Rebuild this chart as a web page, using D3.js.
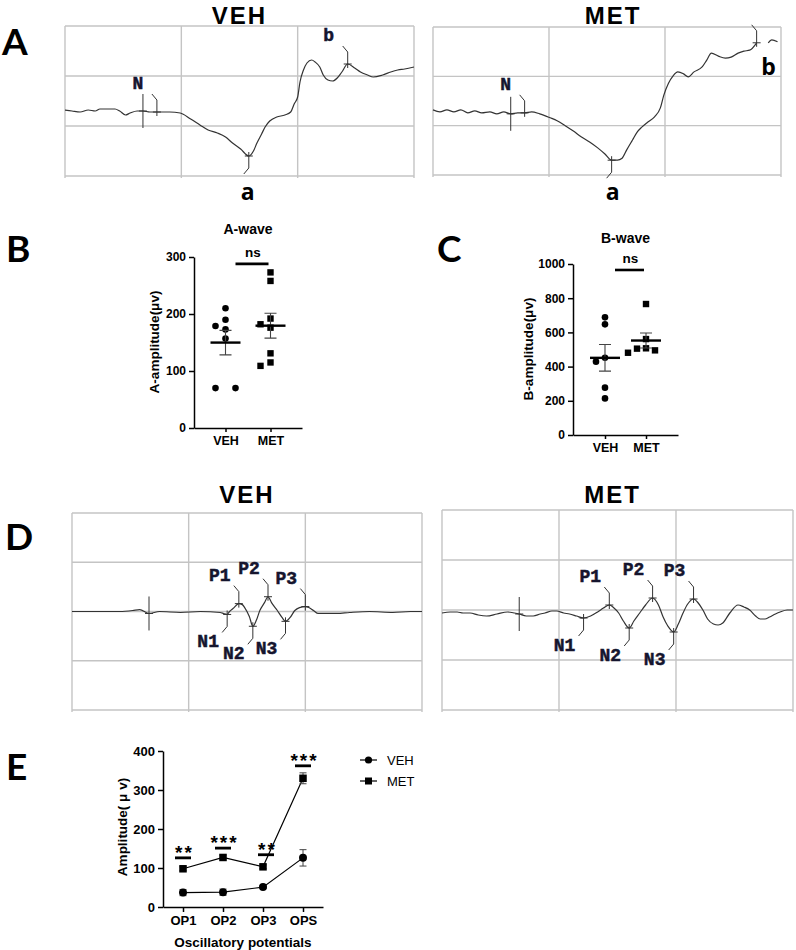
<!DOCTYPE html>
<html lang="en">
<head>
<meta charset="UTF-8">
<title>ERG figure</title>
<script src="https://d3js.org/d3.v7.min.js"></script>
<style>
  body { margin: 0; background: #fff; }
  svg { display: block; }
  .letter { font-family: Lato, "Open Sans", sans-serif; font-weight: 700; font-size: 37px; fill: #000; }
  .title { font-family: "Liberation Sans", Arial, sans-serif; font-weight: 700; font-size: 24px; letter-spacing: 2px; fill: #000; }
  .wave-label { font-family: "Open Sans", sans-serif; font-weight: 700; font-size: 23px; fill: #000; }
  .grid line { stroke: #c4c4c4; stroke-width: 1.4; }
  .trace { fill: none; stroke: #333; stroke-width: 1.2; }
  .mark { fill: none; stroke: #333; stroke-width: 1; }
  .mono { font-family: "Liberation Mono", "Courier New", monospace; font-weight: 700; font-size: 18px; fill: #15152e; stroke: #15152e; stroke-width: 0.5; }
  .stat text { font-family: "Liberation Sans", Arial, sans-serif; font-weight: 700; fill: #000; }
  .stat .domain, .stat .tick line { stroke: #000; stroke-width: 1.5; }
</style>
</head>
<body>
<div id="chart"></div>
<script>
// ---- A: a/b-wave traces, [time, amplitude] (3 grid columns = 300) ----
const aVehTrace = [[0,-18],[6,-20],[13,-22],[20,-18],[26,-20],[30,-16],[37,-16],[43,-16],[47,-20],[52,-28],[56,-24],[62,-20],[67,-20],[73,-22],[79,-22],[90,-22],[99,-24],[108,-36],[116,-48],[123,-58],[131,-64],[138,-72],[144,-84],[151,-96],[158,-110],[162,-100],[165,-84],[169,-66],[172,-52],[176,-40],[182,-32],[189,-28],[194,-22],[197,-6],[200,8],[202,38],[205,62],[208,76],[212,82],[215,78],[219,68],[222,52],[226,42],[230,40],[234,46],[238,58],[243,74],[249,66],[254,58],[260,52],[265,48],[273,52],[280,58],[286,62],[292,64],[300,68]];
const aMetTrace = [[0,-18],[6,-22],[12,-18],[18,-22],[24,-18],[30,-24],[36,-20],[42,-24],[49,-22],[55,-26],[61,-22],[67,-26],[73,-24],[79,-24],[85,-22],[92,-26],[101,-34],[107,-40],[114,-50],[121,-61],[128,-73],[135,-83],[142,-95],[148,-107],[154,-120],[159,-120],[163,-116],[167,-99],[172,-79],[176,-63],[180,-53],[185,-43],[191,-32],[196,-14],[199,12],[203,36],[207,51],[211,59],[216,55],[220,49],[225,59],[232,69],[236,83],[240,97],[246,91],[252,87],[257,89],[263,97],[268,101],[273,103],[279,118]];
const aMetTail = [[289,118],[292,124],[297,120]];
const aVehMarks = [["N",79,-22,"up"],["a",158,-110,"down"],["b",243,74,"up"]];
const aMetMarks = [["N",79,-24,"up"],["a",154,-120,"down"],["b",279,118,"up"]];
const aVehStim = [67,-20];
const aMetStim = [67,-26];

// ---- B / C: individual amplitudes (µV) ----
const groups = ["VEH", "MET"];
const aWaveVeh = [210, 190, 179, 173, 157, 70, 70];
const aWaveMet = [273, 258, 192, 182, 176, 131, 115, 109];
const bWaveVeh = [688, 647, 452, 429, 277, 214];
const bWaveMet = [766, 561, 507, 505, 495, 481];
const aWaveTicks = [0, 100, 200, 300];
const bWaveTicks = [0, 200, 400, 600, 800, 1000];

// ---- D: oscillatory potential traces ----
const dVehTrace = [[0,0],[24,0],[41,0],[52,2],[58,4],[66,-4],[75,0],[93,-2],[110,0],[127,-2],[130,-4],[133,-6],[135,0],[138,6],[143,16],[146,14],[148,8],[152,-10],[155,-30],[158,-18],[161,2],[165,18],[168,30],[171,18],[176,2],[180,-12],[183,-20],[187,-12],[191,2],[195,8],[200,10],[203,8],[207,2],[211,-4],[215,-4],[227,-4],[238,-2],[255,0],[275,-2],[290,0],[300,0]];
const dMetTrace = [[0,-6],[7,-4],[13,-4],[18,-6],[24,-6],[31,-10],[38,-12],[47,-8],[56,-4],[62,-6],[66,-8],[72,-12],[78,-12],[84,-8],[88,-6],[94,-2],[98,-2],[104,-6],[109,-8],[115,-12],[121,-16],[127,-12],[133,-4],[138,4],[143,10],[147,4],[151,-6],[155,-22],[160,-36],[164,-22],[169,-6],[174,10],[180,24],[185,10],[189,-14],[193,-32],[198,-44],[202,-28],[206,-6],[210,12],[215,22],[219,14],[223,0],[227,-18],[232,-28],[236,-30],[240,-26],[246,-6],[253,10],[258,6],[263,0],[268,-12],[272,-18],[276,-18],[280,-14],[285,-8],[289,-4],[295,0],[300,0]];
const dVehMarks = [["N1",133,-6,"down"],["P1",143,16,"up"],["N2",155,-30,"down"],["P2",168,30,"up"],["N3",183,-20,"down"],["P3",200,10,"up"]];
const dMetMarks = [["N1",121,-16,"down"],["P1",143,10,"up"],["N2",160,-36,"down"],["P2",180,24,"up"],["N3",198,-44,"down"],["P3",215,22,"up"]];
const dVehStim = [66,-4];
const dMetStim = [66,-8];

// ---- E: OP amplitudes, mean and SEM ----
const opCats = ["OP1", "OP2", "OP3", "OPS"];
const opVeh = [37, 38, 51, 126];
const opVehSem = [8, 8, 3, 21];
const opMet = [98, 127, 103, 330];
const opMetSem = [5, 6, 5, 14];
const opStars = ["**", "***", "**", "***"];
const opSigY = [126, 151, 134, 362];
const opTicks = [0, 100, 200, 300, 400];

const svg = d3.select("#chart").append("svg")
  .attr("width", 796).attr("height", 950);

const letters = [["A", 2, 55], ["B", 6, 262], ["C", 437, 262], ["D", 5, 550], ["E", 6, 780]];
svg.selectAll(".letter").data(letters).join("text")
  .attr("class", "letter").attr("x", d => d[1]).attr("y", d => d[2])
  .text(d => d[0]);

function tracePanel(cfg, trace, marks, stim, extra) {
  const g = svg.append("g");
  const x = d3.scaleLinear().domain([0, 300]).range([cfg.x0, cfg.x1]);
  const y = d3.scaleLinear().domain(cfg.yDomain).range([cfg.y1, cfg.y0]);
  const grid = g.append("g").attr("class", "grid");
  grid.selectAll(".gv").data(d3.range(0, 301, 100)).join("line").attr("class", "gv")
    .attr("x1", x).attr("x2", x).attr("y1", cfg.y0).attr("y2", cfg.y1 + 2);
  grid.selectAll(".gh").data(d3.range(cfg.yDomain[0], cfg.yDomain[1] + 1, 100)).join("line").attr("class", "gh")
    .attr("x1", cfg.x0).attr("x2", cfg.x1).attr("y1", y).attr("y2", y);

  g.append("text").attr("class", "title").attr("x", (cfg.x0 + cfg.x1) / 2 + cfg.titleDx)
    .attr("y", cfg.titleY).attr("text-anchor", "middle").text(cfg.title);

  const line = d3.line().x(d => x(d[0])).y(d => y(d[1])).curve(d3.curveMonotoneX);
  g.append("path").attr("class", "trace").attr("d", line(trace));
  if (extra) g.append("path").attr("class", "trace").attr("d", line(extra));

  // stimulus marker
  const sx = x(stim[0]), sy = y(stim[1]);
  g.append("path").attr("class", "mark")
    .attr("d", `M${sx},${sy - 17}V${sy + 17}M${sx - 4},${sy}H${sx + 4}`);

  marks.forEach(([name, t, v, dir]) => {
    const px = x(t), py = y(v), s = dir === "up" ? -1 : 1;
    g.append("path").attr("class", "mark")
      .attr("d", `M${px - 4},${py}H${px + 4}M${px},${py - s * 4}V${py + s * 12}L${px - 5},${py + s * 18}`);
    if (!cfg.hide.includes(name)) {
      g.append("text").attr("class", "mono").attr("x", px - 19).attr("y", py + s * 28)
        .attr("text-anchor", "middle").attr("dominant-baseline", "central").text(name);
    }
  });
  cfg.sans.forEach(([name, dx, yy]) => {
    const m = marks.find(d => d[0] === name);
    g.append("text").attr("class", "wave-label").attr("x", x(m[1]) + dx).attr("y", yy)
      .attr("text-anchor", "middle").text(name);
  });
}

tracePanel({ x0: 65, x1: 414, y0: 26, y1: 176, yDomain: [-150, 150], title: "VEH", titleY: 24, titleDx: 0,
  hide: ["a"], sans: [["a", -1, 200]] }, aVehTrace, aVehMarks, aVehStim);
tracePanel({ x0: 433, x1: 781, y0: 27, y1: 175, yDomain: [-150, 150], title: "MET", titleY: 24, titleDx: 6,
  hide: ["a", "b"], sans: [["a", 1, 200], ["b", 12, 75]] }, aMetTrace, aMetMarks, aMetStim, aMetTail);
tracePanel({ x0: 72, x1: 422, y0: 513, y1: 710, yDomain: [-200, 200], title: "VEH", titleY: 503, titleDx: 0,
  hide: [], sans: [] }, dVehTrace, dVehMarks, dVehStim);
tracePanel({ x0: 442, x1: 793, y0: 510, y1: 710, yDomain: [-200, 200], title: "MET", titleY: 503, titleDx: -5,
  hide: [], sans: [] }, dMetTrace, dMetMarks, dMetStim);

// beeswarm-like horizontal spreading of close points
function swarm(values, y, minDist, step) {
  const order = d3.range(values.length).sort((a, b) => values[b] - values[a]);
  const placed = [];
  const cols = new Array(values.length).fill(0);
  for (const i of order) {
    const py = y(values[i]);
    for (const c of [0, -1, 1, -2, 2]) {
      if (placed.every(p => Math.hypot((p.c - c) * step, p.py - py) >= minDist)) {
        cols[i] = c; placed.push({ c, py, v: values[i], i }); break;
      }
    }
  }
  for (const p of placed) if (p.c === -1) {
    const twin = placed.find(q => q.c === 0 && q.v === p.v);
    if (twin) { twin.c = 1; cols[twin.i] = 1; }
  }
  return cols;
}

function square(g, cx, cy, s) {
  g.append("rect").attr("x", cx - s / 2).attr("y", cy - s / 2).attr("width", s).attr("height", s).attr("fill", "#000");
}

function scatterPanel(cfg, vehVals, metVals, ticks) {
  const g = svg.append("g").attr("class", "stat");
  const x = d3.scalePoint().domain(groups).range([cfg.x0, cfg.x1]).padding(cfg.pad);
  const y = d3.scaleLinear().domain([0, ticks[ticks.length - 1]]).range([cfg.y0, cfg.y1]);

  g.append("g").attr("transform", `translate(${cfg.x0},0)`)
    .call(d3.axisLeft(y).tickValues(ticks).tickFormat(d3.format("d")).tickSize(5).tickSizeOuter(0).tickPadding(3))
    .selectAll("text").style("font-size", "12px");
  g.append("g").attr("transform", `translate(0,${cfg.y0})`)
    .call(d3.axisBottom(x).tickSize(4).tickSizeOuter(0).tickPadding(4))
    .selectAll("text").style("font-size", "12.5px");

  [vehVals, metVals].forEach((vals, k) => {
    const cx = x(groups[k]);
    const cols = swarm(vals, y, 6.5, cfg.step);
    vals.forEach((v, i) => {
      const px = cx + cols[i] * cfg.step;
      if (k === 0) g.append("circle").attr("cx", px).attr("cy", y(v)).attr("r", 3.3).attr("fill", "#000");
      else square(g, px, y(v), 6.4);
    });
    const m = d3.mean(vals), sem = d3.deviation(vals) / Math.sqrt(vals.length);
    g.append("path").attr("fill", "none").attr("stroke", "#444").attr("stroke-width", 1.1)
      .attr("d", `M${cx},${y(m - sem)}V${y(m + sem)}M${cx - 6},${y(m - sem)}H${cx + 6}M${cx - 6},${y(m + sem)}H${cx + 6}`);
    g.append("line").attr("x1", cx - 15).attr("x2", cx + 15).attr("y1", y(m)).attr("y2", y(m))
      .attr("stroke", "#000").attr("stroke-width", 2.4);
  });

  const by = y(cfg.sigY);
  g.append("line").attr("x1", x("VEH") + 10).attr("x2", x("MET") - 2).attr("y1", by).attr("y2", by)
    .attr("stroke", "#000").attr("stroke-width", 2.6);
  g.append("text").attr("x", (x("VEH") + x("MET")) / 2 + 5).attr("y", by - 7)
    .attr("text-anchor", "middle").style("font-size", "13.5px").text("ns");
  g.append("text").attr("x", (x("VEH") + x("MET")) / 2).attr("y", cfg.y1 - cfg.titleGap)
    .attr("text-anchor", "middle").style("font-size", "14px").text(cfg.title);
  g.append("text").attr("transform", `translate(${cfg.labelX},${cfg.labelY}) rotate(-90)`)
    .attr("text-anchor", "middle").attr("dominant-baseline", "central")
    .style("font-size", "13.5px").text(cfg.label);
}

scatterPanel({ x0: 194, x1: 302, y0: 428, y1: 257, pad: 0.7, step: 10, sigY: 288, title: "A-wave", titleGap: 23,
  label: "A-amplitude(μv)", labelX: 154, labelY: 342 }, aWaveVeh, aWaveMet, aWaveTicks);
scatterPanel({ x0: 573, x1: 678, y0: 435, y1: 264, pad: 0.78, step: 9, sigY: 965, title: "B-wave", titleGap: 21,
  label: "B-amplitude(μv)", labelX: 528, labelY: 349 }, bWaveVeh, bWaveMet, bWaveTicks);

// ---- E ----
(function () {
  const g = svg.append("g").attr("class", "stat");
  const x = d3.scalePoint().domain(opCats).range([163, 323]).padding(0.5);
  const y = d3.scaleLinear().domain([0, 400]).range([907, 751]);
  g.append("g").attr("transform", "translate(163,0)")
    .call(d3.axisLeft(y).tickValues(opTicks).tickSize(5).tickSizeOuter(0).tickPadding(3))
    .selectAll("text").style("font-size", "13px");
  g.append("g").attr("transform", "translate(0,907)")
    .call(d3.axisBottom(x).tickSize(5).tickSizeOuter(0).tickPadding(4))
    .selectAll("text").style("font-size", "13px");

  const line = d3.line().x((d, i) => x(opCats[i])).y(d => y(d));
  [[opVeh, opVehSem, "c"], [opMet, opMetSem, "s"]].forEach(([vals, sem, shape]) => {
    g.append("path").attr("fill", "none").attr("stroke", "#000").attr("stroke-width", 1.2).attr("d", line(vals));
    vals.forEach((v, i) => {
      const cx = x(opCats[i]);
      g.append("path").attr("fill", "none").attr("stroke", "#444").attr("stroke-width", 1)
        .attr("d", `M${cx},${y(v - sem[i])}V${y(v + sem[i])}M${cx - 3.5},${y(v - sem[i])}H${cx + 3.5}M${cx - 3.5},${y(v + sem[i])}H${cx + 3.5}`);
      if (shape === "c") g.append("circle").attr("cx", cx).attr("cy", y(v)).attr("r", 4).attr("fill", "#000");
      else square(g, cx, y(v), 7.5);
    });
  });

  opStars.forEach((s, i) => {
    const cx = x(opCats[i]) + (i === 2 ? 3 : 0);
    const by = y(opSigY[i]);
    g.append("line").attr("x1", cx - 8).attr("x2", cx + 8).attr("y1", by).attr("y2", by)
      .attr("stroke", "#000").attr("stroke-width", 2.8);
    g.append("text").attr("x", cx + 1.5).attr("y", by + 1).attr("text-anchor", "middle")
      .style("font-size", "19px").style("letter-spacing", "2px").text(s);
  });

  g.append("text").attr("transform", "translate(122,827) rotate(-90)")
    .attr("text-anchor", "middle").attr("dominant-baseline", "central")
    .style("font-size", "13.5px").text("Amplitude( μ v)");
  g.append("text").attr("x", 243).attr("y", 947).attr("text-anchor", "middle")
    .style("font-size", "13.5px").text("Oscillatory potentials");

  const legend = g.selectAll(".lg").data(groups).join("g").attr("class", "lg")
    .attr("transform", (d, i) => `translate(360,${760 + i * 21})`);
  legend.append("line").attr("x1", 0).attr("x2", 17).attr("stroke", "#000").attr("stroke-width", 1.2);
  legend.each(function (d, i) {
    const l = d3.select(this);
    if (i === 0) l.append("circle").attr("cx", 8.5).attr("r", 3.6).attr("fill", "#000");
    else l.append("rect").attr("x", 5).attr("y", -3.5).attr("width", 7).attr("height", 7).attr("fill", "#000");
  });
  legend.append("text").attr("x", 27).attr("y", 5).style("font-weight", "400").style("font-size", "13px").text(d => d);
})();
</script>
</body>
</html>
